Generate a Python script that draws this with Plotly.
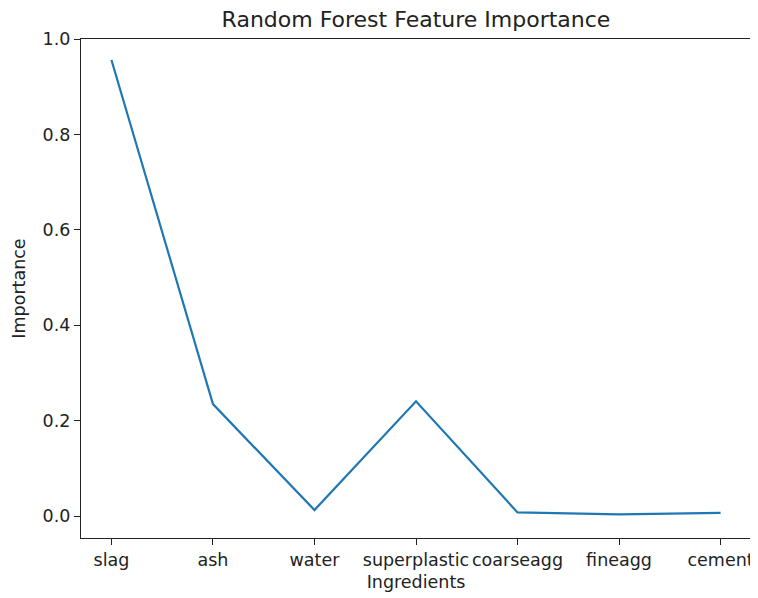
import plotly.graph_objects as go

ingredients = ["slag", "ash", "water", "superplastic", "coarseagg", "fineagg", "cement"]
importance = [0.956, 0.235, 0.013, 0.241, 0.008, 0.004, 0.007]

fig = go.Figure()
fig.add_trace(go.Scatter(
    x=list(range(len(ingredients))), y=importance, mode="lines",
    line=dict(color="#1f77b4", width=2.2), showlegend=False,
))

axis_common = dict(
    showgrid=False, zeroline=False, showline=True, mirror=True,
    linecolor="#222", linewidth=1.3, ticks="outside", ticklen=6,
    tickcolor="#222", tickwidth=1.3, automargin=False,
    tickfont=dict(family="DejaVu Sans", size=17.5, color="#222"),
)

fig.update_layout(
    width=750, height=590,
    margin=dict(l=73, r=7, t=31, b=60),
    paper_bgcolor="white", plot_bgcolor="white",
    font=dict(family="DejaVu Sans", color="#222"),
    title=dict(text="Random Forest Feature Importance", x=0.5, xref="paper",
               y=1, yref="paper", yanchor="bottom", pad=dict(b=12),
               automargin=False,
               font=dict(size=22, family="DejaVu Sans", color="#222")),
    xaxis=dict(axis_common, range=[-0.3, 6.3],
               tickmode="array", tickvals=list(range(len(ingredients))),
               ticktext=ingredients,
               title=dict(text="Ingredients", standoff=6,
                          font=dict(size=17.5, family="DejaVu Sans"))),
    yaxis=dict(axis_common, range=[-0.0455, 1.0],
               tickmode="array", tickvals=[0, 0.2, 0.4, 0.6, 0.8, 1.0],
               ticktext=["0.0", "0.2", "0.4", "0.6", "0.8", "1.0"],
               title=dict(text="Importance", standoff=12,
                          font=dict(size=17.5, family="DejaVu Sans"))),
)

fig.write_html("out.html")
